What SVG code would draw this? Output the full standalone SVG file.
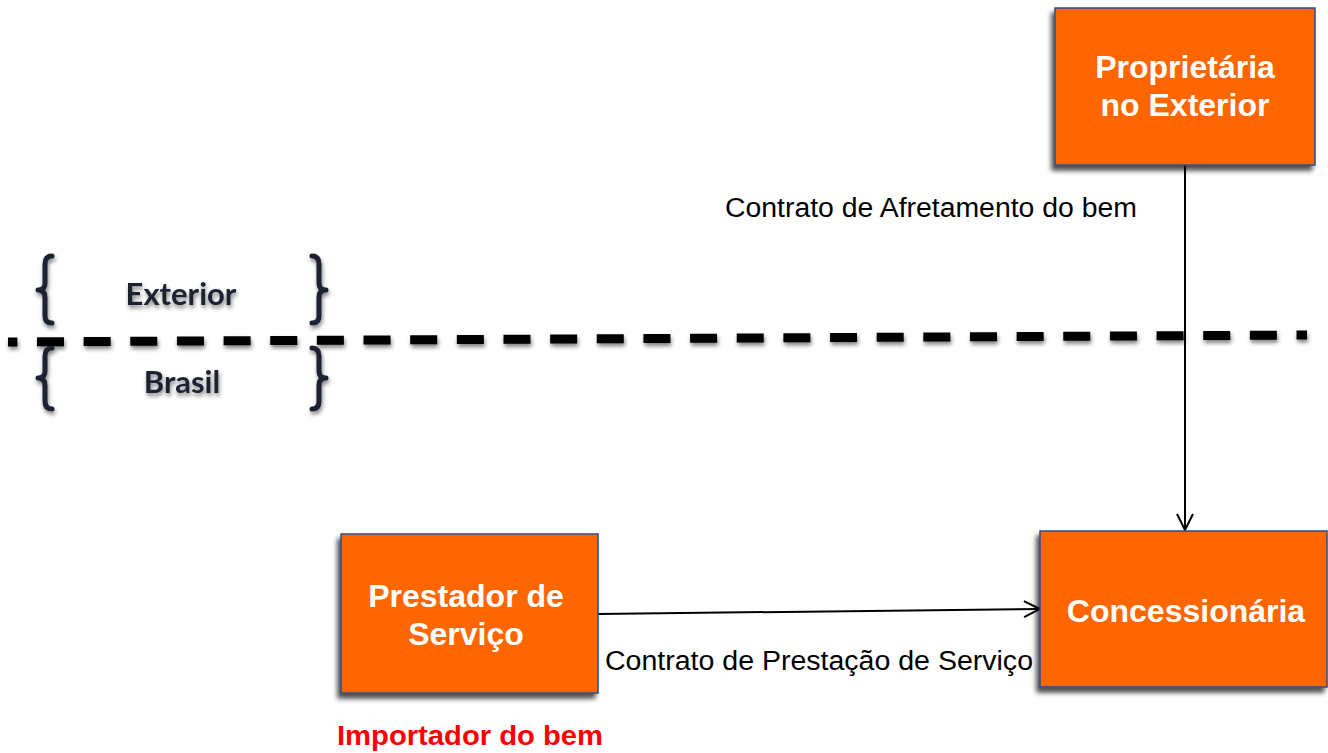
<svg xmlns="http://www.w3.org/2000/svg" width="1328" height="753" viewBox="0 0 1328 753">
  <defs>
    <filter id="boxShadow" x="-10%" y="-10%" width="125%" height="130%">
      <feGaussianBlur in="SourceAlpha" stdDeviation="2.5"/>
      <feOffset dx="-3" dy="5" result="b"/>
      <feComponentTransfer><feFuncA type="linear" slope="0.7"/></feComponentTransfer>
      <feMerge><feMergeNode/><feMergeNode in="SourceGraphic"/></feMerge>
    </filter>
    <filter id="softShadow" x="-5%" y="-50%" width="110%" height="250%">
      <feGaussianBlur in="SourceAlpha" stdDeviation="2"/>
      <feOffset dx="1" dy="3"/>
      <feComponentTransfer><feFuncA type="linear" slope="0.5"/></feComponentTransfer>
      <feMerge><feMergeNode/><feMergeNode in="SourceGraphic"/></feMerge>
    </filter>
    <marker id="arrow" viewBox="0 0 20 20" refX="18" refY="10" markerWidth="20" markerHeight="20" markerUnits="userSpaceOnUse" orient="auto">
      <path d="M2 2 L18 10 L2 18" fill="none" stroke="#000" stroke-width="2"/>
    </marker>
    <style>
      .box { fill: #FF6600; stroke: #2F4C8C; stroke-width: 1.5; }
      .boxText { font-family: "Liberation Sans", Arial, sans-serif; font-weight: bold; font-size: 32px; fill: #FFFFFF; text-anchor: middle; }
      .label { font-family: "Liberation Sans", Arial, sans-serif; font-size: 27px; fill: #000; }
      .region { font-family: Lato, "Open Sans", sans-serif; font-weight: bold; font-size: 31px; fill: #1C2233; text-anchor: middle; }
      .brace { fill: none; stroke: #1C2233; stroke-width: 5; stroke-linecap: round; stroke-linejoin: round; }
      .conn { fill: none; stroke: #000; stroke-width: 2; }
    </style>
  </defs>
  <rect width="1328" height="753" fill="#FFFFFF"/>

  <g id="divider" filter="url(#softShadow)">
    <path d="M8 342 L1307 335" fill="none" stroke="#000" stroke-width="9" stroke-dasharray="27 19.65" stroke-dashoffset="17.65"/>
    <path class="brace" d="M52 256 Q45 256 45 264 L45 283 Q45 290 38 290 Q45 290 45 297 L45 316 Q45 323 52 323"/>
    <path class="brace" d="M52 348 Q45 348 45 356 L45 371 Q45 378 38 378 Q45 378 45 385 L45 401 Q45 409 52 409"/>
    <path class="brace" d="M312 256 Q319 256 319 264 L319 283 Q319 290 326 290 Q319 290 319 297 L319 316 Q319 323 312 323"/>
    <path class="brace" d="M312 348 Q319 348 319 356 L319 371 Q319 378 326 378 Q319 378 319 385 L319 401 Q319 409 312 409"/>
    <text class="region" x="181" y="305">Exterior</text>
    <text class="region" x="182" y="393">Brasil</text>
  </g>

  <g id="connectors">
    <path class="conn" d="M1185 165 L1185 530" marker-end="url(#arrow)"/>
    <path class="conn" d="M598 614 L1040 609" marker-end="url(#arrow)"/>
    <text class="label" x="725" y="217" textLength="412" lengthAdjust="spacingAndGlyphs">Contrato de Afretamento do bem</text>
    <text class="label" x="605" y="670" textLength="428" lengthAdjust="spacingAndGlyphs">Contrato de Prestação de Serviço</text>
  </g>

  <g id="proprietaria">
    <rect class="box" x="1055" y="8" width="260" height="157" filter="url(#boxShadow)"/>
    <text class="boxText" x="1185" y="78">Proprietária</text>
    <text class="boxText" x="1185" y="116">no Exterior</text>
  </g>

  <g id="concessionaria">
    <rect class="box" x="1040" y="531" width="287" height="156" filter="url(#boxShadow)"/>
    <text class="boxText" x="1186" y="622">Concessionária</text>
  </g>

  <g id="prestador">
    <rect class="box" x="341" y="534" width="257" height="159" filter="url(#boxShadow)"/>
    <text class="boxText" x="466" y="607">Prestador de</text>
    <text class="boxText" x="466" y="645">Serviço</text>
  </g>

  <g id="importador">
    <text x="337" y="745" font-family="'Liberation Sans', Arial, sans-serif" font-weight="bold" font-size="28" fill="#FF0000" textLength="266" lengthAdjust="spacingAndGlyphs">Importador do bem</text>
  </g>
</svg>
